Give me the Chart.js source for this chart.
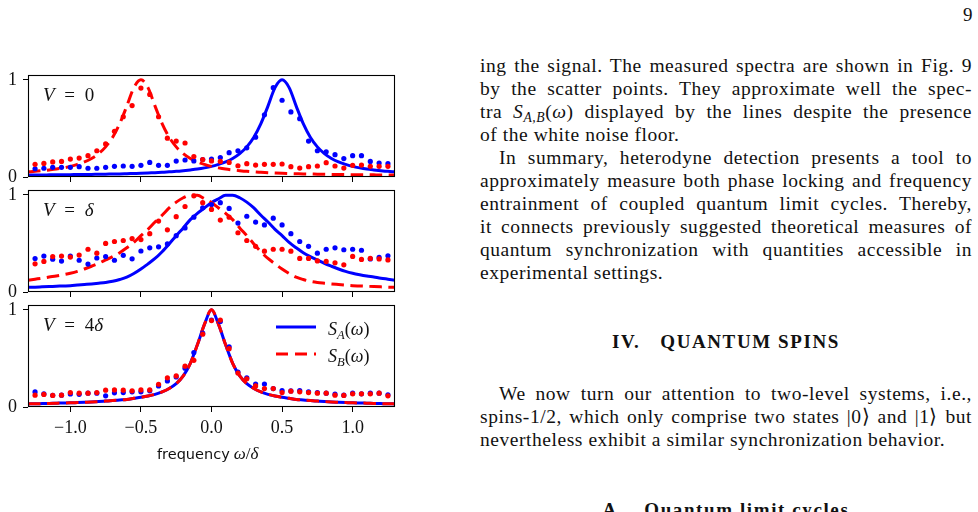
<!DOCTYPE html>
<html>
<head>
<meta charset="utf-8">
<script src="https://cdn.jsdelivr.net/npm/chart.js@4.4.0/dist/chart.umd.min.js"></script>
<style>
html,body{margin:0;padding:0;background:#fff;}
#page{position:relative;width:978px;height:512px;overflow:hidden;background:#fff;}
canvas.panel{position:absolute;left:0;}
.ov{position:absolute;white-space:nowrap;color:#111;transform:translateY(-50%);line-height:1;}
.serif{font-family:'Liberation Serif',serif;}
.ln{position:absolute;left:480px;width:492px;font-family:'Liberation Serif',serif;font-size:19.5px;letter-spacing:0.55px;line-height:23px;height:23px;color:#111;text-align:justify;text-align-last:justify;}
.ln.last{text-align:left;text-align-last:left;}
.ln.ind{text-indent:19px;}
.head{position:absolute;left:480px;width:492px;text-align:center;font-family:'Liberation Serif',serif;font-weight:bold;font-size:19px;letter-spacing:1.6px;line-height:23px;color:#111;}
.sub{font-size:0.7em;position:relative;top:0.3em;}
</style>
</head>
<body>
<div id="page">
  <canvas id="c1" class="panel" width="400" height="120" style="top:65px"></canvas>
  <canvas id="c2" class="panel" width="400" height="120" style="top:180px"></canvas>
  <canvas id="c3" class="panel" width="400" height="142" style="top:295px"></canvas>

  <div class="ov serif" style="left:43px;top:94px;font-size:19px;word-spacing:5px"><i>V</i> = 0</div>
  <div class="ov serif" style="left:43px;top:209px;font-size:19px;word-spacing:5px"><i>V</i> = <i>δ</i></div>
  <div class="ov serif" style="left:43px;top:324px;font-size:19px;word-spacing:5px"><i>V</i> = 4<i>δ</i></div>

  <div class="ov serif" style="left:328px;top:329px;font-size:18px"><i>S</i><span class="sub"><i>A</i></span>(<i>ω</i>)</div>
  <div class="ov serif" style="left:328px;top:356px;font-size:18px"><i>S</i><span class="sub"><i>B</i></span>(<i>ω</i>)</div>

  <div class="ov" style="left:157px;top:453px;"><span style="font-family:'DejaVu Sans',sans-serif;font-size:14.5px">frequency</span> <span class="serif" style="font-size:17px"><i>ω</i>/<i>δ</i></span></div>

  <div class="ov serif" style="left:963px;top:14px;font-size:19px">9</div>

  <div class="ln" style="top:54px">ing the signal. The measured spectra are shown in Fig. 9</div>
  <div class="ln" style="top:77px">by the scatter points. They approximate well the spec-</div>
  <div class="ln" style="top:100px">tra <i>S</i><span class="sub"><i>A,B</i></span>(<i>ω</i>) displayed by the lines despite the presence</div>
  <div class="ln last" style="top:123px">of the white noise floor.</div>
  <div class="ln ind" style="top:146px">In summary, heterodyne detection presents a tool to</div>
  <div class="ln" style="top:169px">approximately measure both phase locking and frequency</div>
  <div class="ln" style="top:192px">entrainment of coupled quantum limit cycles. Thereby,</div>
  <div class="ln" style="top:215px">it connects previously suggested theoretical measures of</div>
  <div class="ln" style="top:238px">quantum synchronization with quantities accessible in</div>
  <div class="ln last" style="top:261px">experimental settings.</div>

  <div class="head" style="top:330px">IV.<span style="display:inline-block;width:20px"></span>QUANTUM SPINS</div>

  <div class="ln ind" style="top:382px">We now turn our attention to two-level systems, i.e.,</div>
  <div class="ln" style="top:405px">spins-1/2, which only comprise two states |0⟩ and |1⟩ but</div>
  <div class="ln last" style="top:428px">nevertheless exhibit a similar synchronization behavior.</div>

  <div class="head" style="top:498px">A.<span style="display:inline-block;width:20px"></span>Quantum limit cycles</div>
</div>

<script>
// ---------- data ----------
const xTicks = [-1.0, -0.5, 0.0, 0.5, 1.0];
const yTicks = [0, 1];

// x positions of the smooth theory curves
const lineX = [-1.30,-1.25,-1.20,-1.15,-1.10,-1.05,-1.00,-0.95,-0.90,-0.85,-0.80,-0.75,-0.70,-0.65,-0.60,-0.55,-0.50,-0.45,-0.40,-0.35,-0.30,-0.25,-0.20,-0.15,-0.10,-0.05,0.00,0.05,0.10,0.15,0.20,0.25,0.30,0.35,0.40,0.45,0.50,0.55,0.60,0.65,0.70,0.75,0.80,0.85,0.90,0.95,1.00,1.05,1.10,1.15,1.20,1.25,1.30];

// x positions of the measured (scatter) spectra
const dotX = [-1.25,-1.1875,-1.125,-1.0625,-1.0,-0.9375,-0.875,-0.8125,-0.75,-0.6875,-0.625,-0.5625,-0.5,-0.4375,-0.375,-0.3125,-0.25,-0.1875,-0.125,-0.0625,0.0,0.0625,0.125,0.1875,0.25,0.3125,0.375,0.4375,0.5,0.5625,0.625,0.6875,0.75,0.8125,0.875,0.9375,1.0,1.0625,1.125,1.1875,1.25];

// Panel 1: V = 0
const lineA1 = [0.020,0.021,0.021,0.022,0.023,0.023,0.024,0.025,0.026,0.027,0.028,0.029,0.031,0.032,0.034,0.036,0.038,0.041,0.045,0.048,0.053,0.058,0.065,0.073,0.082,0.094,0.109,0.130,0.155,0.190,0.240,0.310,0.410,0.550,0.730,0.920,1.000,0.920,0.730,0.550,0.410,0.310,0.240,0.190,0.155,0.130,0.109,0.094,0.082,0.073,0.065,0.058,0.053];
const lineB1 = [0.053,0.058,0.065,0.073,0.082,0.094,0.109,0.130,0.155,0.190,0.240,0.310,0.410,0.550,0.730,0.920,1.000,0.920,0.730,0.550,0.410,0.310,0.240,0.190,0.155,0.130,0.109,0.094,0.082,0.073,0.065,0.058,0.053,0.048,0.045,0.041,0.038,0.036,0.034,0.032,0.031,0.029,0.028,0.027,0.026,0.025,0.024,0.023,0.023,0.022,0.021,0.021,0.020];
const dotsA1 = [0.085,0.090,0.100,0.100,0.100,0.106,0.090,0.090,0.100,0.110,0.113,0.110,0.120,0.150,0.120,0.120,0.164,0.175,0.165,0.180,0.185,0.200,0.250,0.270,0.300,0.410,0.640,0.920,0.790,0.670,0.600,0.370,0.270,0.260,0.230,0.190,0.220,0.220,0.160,0.144,0.137];
const dotsB1 = [0.130,0.140,0.155,0.160,0.185,0.195,0.220,0.270,0.340,0.470,0.620,0.735,0.915,0.850,0.620,0.400,0.370,0.350,0.210,0.180,0.165,0.160,0.150,0.116,0.137,0.123,0.130,0.130,0.134,0.106,0.092,0.106,0.113,0.147,0.113,0.092,0.120,0.123,0.110,0.110,0.110];

// Panel 2: V = delta
const lineA2 = [0.048,0.050,0.053,0.056,0.059,0.062,0.065,0.071,0.077,0.083,0.090,0.098,0.110,0.128,0.152,0.190,0.236,0.290,0.345,0.415,0.495,0.580,0.660,0.745,0.810,0.865,0.920,0.960,0.995,0.995,0.970,0.925,0.865,0.790,0.720,0.645,0.580,0.510,0.455,0.405,0.365,0.330,0.295,0.265,0.237,0.212,0.193,0.178,0.165,0.154,0.142,0.132,0.122];
const lineB2 = [0.122,0.132,0.142,0.154,0.165,0.178,0.193,0.212,0.237,0.265,0.295,0.330,0.365,0.405,0.455,0.510,0.580,0.645,0.720,0.790,0.865,0.925,0.970,0.995,0.995,0.960,0.920,0.865,0.810,0.745,0.660,0.580,0.495,0.415,0.345,0.290,0.236,0.190,0.152,0.128,0.110,0.098,0.090,0.083,0.077,0.071,0.065,0.062,0.059,0.056,0.053,0.050,0.048];
const dotsA2 = [0.345,0.370,0.337,0.318,0.370,0.327,0.287,0.350,0.365,0.327,0.378,0.341,0.422,0.455,0.465,0.495,0.580,0.660,0.770,0.866,0.900,0.920,0.860,0.710,0.780,0.720,0.690,0.760,0.690,0.600,0.520,0.470,0.400,0.440,0.455,0.435,0.440,0.430,0.340,0.356,0.373];
const dotsB2 = [0.290,0.315,0.365,0.370,0.360,0.380,0.440,0.400,0.500,0.520,0.530,0.550,0.540,0.600,0.730,0.640,0.775,0.880,0.990,0.920,0.850,0.740,0.770,0.610,0.530,0.470,0.420,0.440,0.440,0.420,0.346,0.346,0.320,0.315,0.300,0.280,0.366,0.335,0.346,0.340,0.330];

// Panel 3: V = 4 delta
const lineA3 = [0.032,0.033,0.035,0.037,0.039,0.041,0.043,0.046,0.049,0.052,0.056,0.061,0.066,0.072,0.078,0.089,0.100,0.113,0.130,0.155,0.190,0.240,0.320,0.450,0.640,0.850,1.000,0.850,0.640,0.450,0.320,0.240,0.190,0.155,0.130,0.113,0.100,0.089,0.078,0.072,0.066,0.061,0.056,0.052,0.049,0.046,0.043,0.041,0.039,0.037,0.035,0.033,0.032];
const lineB3 = [0.032,0.033,0.035,0.037,0.039,0.041,0.043,0.046,0.049,0.052,0.056,0.061,0.066,0.072,0.078,0.089,0.100,0.113,0.130,0.155,0.190,0.240,0.320,0.450,0.640,0.850,1.000,0.850,0.640,0.450,0.320,0.240,0.190,0.155,0.130,0.113,0.100,0.089,0.078,0.072,0.066,0.061,0.056,0.052,0.049,0.046,0.043,0.041,0.039,0.037,0.035,0.033,0.032];
const dotsA3 = [0.155,0.135,0.120,0.122,0.135,0.130,0.142,0.142,0.115,0.146,0.149,0.156,0.156,0.166,0.217,0.268,0.310,0.400,0.560,0.760,0.895,0.880,0.620,0.360,0.300,0.237,0.237,0.190,0.170,0.165,0.170,0.156,0.149,0.142,0.132,0.122,0.142,0.136,0.142,0.142,0.125];
const dotsB3 = [0.122,0.129,0.119,0.122,0.149,0.142,0.142,0.149,0.173,0.176,0.173,0.166,0.176,0.176,0.234,0.300,0.320,0.420,0.480,0.750,0.890,0.895,0.600,0.350,0.290,0.217,0.190,0.190,0.149,0.163,0.156,0.149,0.142,0.142,0.122,0.119,0.136,0.136,0.136,0.142,0.115];

// ---------- drawing ----------
const BLUE = '#0000ff', RED = '#ff0000';
const fmt = v => (v < 0 ? '\u2212' : '') + Math.abs(v).toFixed(1);

function lineDS(vals, color, dash, order) {
  return { data: lineX.map((x, i) => ({x, y: vals[i]})), showLine: true, borderColor: color,
    borderWidth: 3, borderDash: dash, pointRadius: 0, pointHoverRadius: 0,
    cubicInterpolationMode: 'monotone', order };
}
function dotDS(vals, color, order) {
  return { data: dotX.map((x, i) => ({x, y: vals[i]})), showLine: false,
    pointRadius: 2.6, pointHoverRadius: 2.6, pointBackgroundColor: color, pointBorderWidth: 0,
    borderColor: color, order };
}

const framePlugin = { id: 'frame', afterDatasetsDraw(chart) {
  const {ctx, chartArea: a} = chart;
  ctx.save(); ctx.strokeStyle = '#000'; ctx.lineWidth = 1.1;
  ctx.strokeRect(Math.round(a.left) + 0.5, Math.round(a.top) + 0.5,
                 Math.round(a.right - a.left) - 1, Math.round(a.bottom - a.top) - 1);
  ctx.restore();
}};
const legendPlugin = { id: 'legendLines', afterDatasetsDraw(chart) {
  const ctx = chart.ctx;
  ctx.save(); ctx.lineWidth = 3;
  ctx.strokeStyle = BLUE; ctx.setLineDash([]);
  ctx.beginPath(); ctx.moveTo(276, 32); ctx.lineTo(316, 32); ctx.stroke();
  ctx.strokeStyle = RED; ctx.setLineDash([12, 7]);
  ctx.beginPath(); ctx.moveTo(276, 59); ctx.lineTo(316, 59); ctx.stroke();
  ctx.restore();
}};

function makePanel(id, A, B, dA, dB, showXLabels, extra) {
  return new Chart(document.getElementById(id), {
    type: 'scatter',
    data: { datasets: [ dotDS(dB, RED, 0), dotDS(dA, BLUE, 1), lineDS(B, RED, [12.5, 6.5], 2), lineDS(A, BLUE, [], 3) ] },
    options: {
      responsive: false, animation: false, devicePixelRatio: 1,
      events: [],
      layout: { padding: { top: 10, right: 5, left: 0, bottom: 0 } },
      plugins: { legend: { display: false }, tooltip: { enabled: false } },
      scales: {
        x: { type: 'linear', min: -1.3, max: 1.3,
          afterFit: s => { s.height = showXLabels ? 30 : 8; s.paddingLeft = 0; s.paddingRight = 0; },
          afterBuildTicks: s => { s.ticks = xTicks.map(v => ({value: v})); },
          grid: { display: true, drawOnChartArea: false, drawTicks: true, tickLength: 5, color: '#000', lineWidth: 1 },
          border: { display: false },
          ticks: { display: showXLabels, padding: 5, color: '#111', font: { family: 'Liberation Serif', size: 18 }, callback: v => fmt(v) } },
        y: { min: 0, max: 1.05,
          afterFit: s => { s.width = 28; s.paddingTop = 0; s.paddingBottom = 0; },
          afterBuildTicks: s => { s.ticks = yTicks.map(v => ({value: v})); },
          grid: { display: true, drawOnChartArea: false, drawTicks: true, tickLength: 5, color: '#000', lineWidth: 1 },
          border: { display: false },
          ticks: { padding: 6, color: '#111', font: { family: 'Liberation Serif', size: 18 }, callback: v => String(v) } }
      }
    },
    plugins: [framePlugin].concat(extra || [])
  });
}

makePanel('c1', lineA1, lineB1, dotsA1, dotsB1, false);
makePanel('c2', lineA2, lineB2, dotsA2, dotsB2, false);
makePanel('c3', lineA3, lineB3, dotsA3, dotsB3, true, [legendPlugin]);
</script>
</body>
</html>
